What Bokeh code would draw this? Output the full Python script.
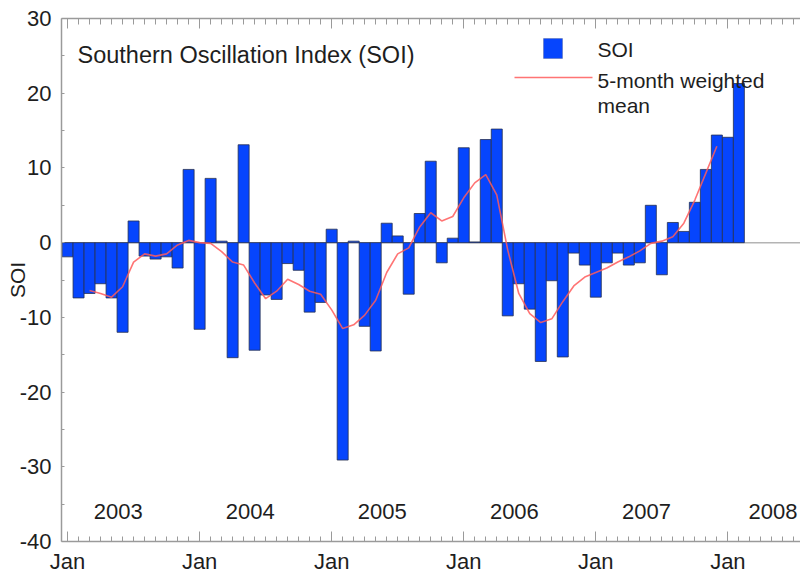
from bokeh.plotting import figure
from bokeh.models import Range1d, FixedTicker, LinearAxis, Label, BoxAnnotation, Span
from bokeh.core.properties import value
from bokeh.embed import file_html
from bokeh.resources import INLINE

# ---- data ----
month_names = ["Jan", "Feb", "Mar", "Apr", "May", "Jun",
               "Jul", "Aug", "Sep", "Oct", "Nov", "Dec"]
years = ["2003", "2004", "2005", "2006", "2007", "2008"]

# monthly SOI, Jan 2003 .. Feb 2008
soi = [-1.9, -7.4, -6.8, -5.5, -7.4, -12.0, 2.9, -1.8, -2.2, -1.9, -3.4, 9.8,
       -11.6, 8.6, 0.2, -15.4, 13.1, -14.4, -7.0, -7.6, -2.8, -3.7, -9.3, -8.0,
       1.8, -29.1, 0.2, -11.2, -14.5, 2.6, 0.9, -6.9, 3.9, 10.9, -2.7, 0.6,
       12.7, 0.1, 13.8, 15.2, -9.8, -5.5, -8.9, -15.9, -5.1, -15.3, -1.4, -3.0,
       -7.3, -2.7, -1.4, -3.0, -2.7, 5.0, -4.3, 2.7, 1.5, 5.4, 9.8, 14.4,
       14.1, 21.3]

# 5-month weighted mean, Mar 2003 .. Dec 2007
wmean = [-6.4, -6.8, -7.3, -5.9, -2.6, -1.5, -1.8, -1.5, -0.3, 0.3,
         0.0, -0.1, -1.2, -2.6, -3.0, -5.4, -7.5, -6.5, -4.9, -5.6, -6.5, -6.9,
         -9.0, -11.5, -11.0, -9.7, -7.7, -4.0, -1.5, -0.7, 2.1, 4.0, 2.9, 3.5,
         6.0, 8.0, 9.1, 6.4, -1.0, -6.8, -9.5, -10.7, -10.2, -7.9, -5.8, -4.6,
         -4.0, -3.4, -2.6, -1.9, -1.1, -0.1, 0.2, 0.8, 2.6, 5.7, 9.3, 12.9]
wmean_start = 2  # first month index of the weighted mean

y_ticks = [-40, -30, -20, -10, 0, 10, 20, 30]
y_minor = [-35, -25, -15, -5, 5, 15, 25]

# ---- derived positions ----
n = len(soi)
idx = list(range(n))
month_of = [month_names[i % 12] for i in range(n)]
mean_idx = list(range(wmean_start, wmean_start + len(wmean)))
jan_ticks = [i for i in idx if month_of[i] == "Jan"]
minor_months = list(range(-1, 67))
# year captions sit a little after each January; the last one is kept inside the frame
year_x = [min(12 * k + 4.6, 64.1) for k in range(len(years))]
year_y = [-36.0] * len(years)

FONT = "Liberation Sans"
TXT = "#1e1e1e"
AX = "#9a9a9a"
BLUE = "#0645fd"
EDGE = "#26304f"
RED = "#ff5c5c"

p = figure(width=800, height=576, output_backend="svg", toolbar_location=None,
           x_range=Range1d(-0.55, 66.6), y_range=Range1d(-40, 30),
           min_border_left=61, min_border_right=0, min_border_top=18,
           min_border_bottom=35)
p.xgrid.visible = False
p.ygrid.visible = False
p.outline_line_color = None
p.background_fill_color = "white"
p.border_fill_color = "white"

p.add_layout(Span(location=0, dimension="width", line_color="#b4b4b4",
                  line_width=1.5, level="underlay"))

p.vbar(x=idx, top=soi, bottom=0, width=1.0, fill_color=BLUE,
       line_color=EDGE, line_width=0.8)
p.line(mean_idx, wmean, line_color=RED, line_width=1.6, line_alpha=0.85)

p.text(x=year_x, y=year_y, text=years, text_font=value(FONT),
       text_font_size=value("22px"), text_color=TXT,
       text_align="center", text_baseline="middle")

# ---- axes ----
xax = p.xaxis[0]
xax.ticker = FixedTicker(ticks=jan_ticks, minor_ticks=minor_months)
xax.major_label_overrides = {t: month_of[t] for t in jan_ticks}
xax.major_tick_in = 10
xax.major_tick_out = 0
xax.minor_tick_in = 5
xax.minor_tick_out = 0
xax.major_label_standoff = 7

yax = p.yaxis[0]
yax.ticker = FixedTicker(ticks=y_ticks, minor_ticks=y_minor)
yax.major_label_overrides = {t: str(t) for t in y_ticks}
yax.major_tick_in = 3
yax.major_tick_out = 0
yax.minor_tick_in = 3
yax.minor_tick_out = 0
yax.major_label_standoff = 10
yax.axis_label = "SOI"
yax.axis_label_standoff = -12
yax.axis_label_text_font = FONT
yax.axis_label_text_font_size = "21px"
yax.axis_label_text_font_style = "normal"
yax.axis_label_text_color = TXT

top = LinearAxis(ticker=FixedTicker(ticks=jan_ticks, minor_ticks=minor_months),
                 major_label_overrides={t: "" for t in jan_ticks},
                 major_tick_in=10, major_tick_out=0,
                 minor_tick_in=6, minor_tick_out=0, major_label_standoff=0)
p.add_layout(top, "above")

for ax in (xax, yax, top):
    ax.axis_line_color = AX
    ax.axis_line_width = 1.5
    ax.major_tick_line_color = AX
    ax.minor_tick_line_color = AX
    ax.major_tick_line_width = 1
    ax.minor_tick_line_width = 1
    ax.major_label_text_font = FONT
    ax.major_label_text_font_size = "22px"
    ax.major_label_text_color = TXT

# ---- chart title ----
p.add_layout(Label(x=16, y=487, x_units="screen", y_units="screen",
                   text="Southern Oscillation Index (SOI)",
                   text_align="left", text_baseline="middle",
                   text_font=FONT, text_font_size="23.5px", text_color=TXT))

# ---- legend (hand-built to match the original key layout) ----
p.add_layout(BoxAnnotation(left=482, right=501, top=503, bottom=483,
                           left_units="screen", right_units="screen",
                           top_units="screen", bottom_units="screen",
                           fill_color=BLUE, fill_alpha=1.0,
                           line_color=EDGE, line_width=0.8))
p.add_layout(BoxAnnotation(left=453, right=531, top=464.8, bottom=463.2,
                           left_units="screen", right_units="screen",
                           top_units="screen", bottom_units="screen",
                           fill_color=RED, fill_alpha=0.85, line_color=None))
for txt, yy in (("SOI", 492.5), ("5-month weighted", 461), ("mean", 436)):
    p.add_layout(Label(x=536, y=yy, x_units="screen", y_units="screen", text=txt,
                       text_align="left", text_baseline="middle",
                       text_font=FONT, text_font_size="21px", text_color=TXT))

open("out.html", "w").write(file_html(p, INLINE))
